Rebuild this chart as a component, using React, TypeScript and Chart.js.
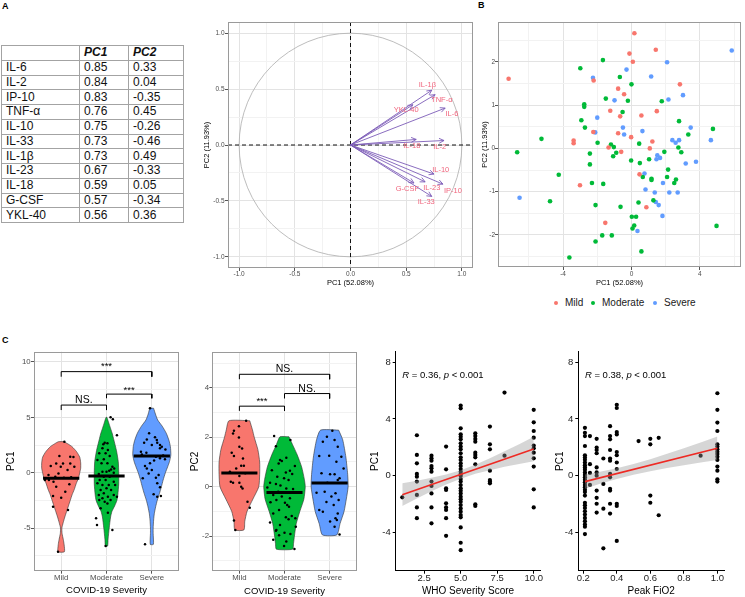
import React, { useEffect, useRef } from 'react';
import { Chart, registerables } from 'chart.js';

Chart.register(...registerables);
const FONT = '"Liberation Sans", Arial, Helvetica, sans-serif';
Chart.defaults.font.family = FONT;

// ---------------- Panel A : loadings ----------------
const cytokines = ['IL-6', 'IL-2', 'IP-10', 'TNF-α', 'IL-10', 'IL-33', 'IL-1β', 'IL-23', 'IL-18', 'G-CSF', 'YKL-40'];
const pc1Loadings = [0.85, 0.84, 0.83, 0.76, 0.75, 0.73, 0.73, 0.67, 0.59, 0.57, 0.56];
const pc2Loadings = [0.33, 0.04, -0.35, 0.45, -0.26, -0.46, 0.49, -0.33, 0.05, -0.34, 0.36];
const loadingLabelX = [0.91, 0.8, 0.92, 0.82, 0.81, 0.68, 0.69, 0.73, 0.55, 0.51, 0.5];
const loadingLabelY = [0.28, -0.02, -0.41, 0.4, -0.22, -0.51, 0.54, -0.38, -0.01, -0.39, 0.31];
const circleTicks = [-1, -0.5, 0, 0.5, 1];
const circleMinor = [-0.75, -0.25, 0.25, 0.75];

// ---------------- Panel B : individuals ----------------
const severityGroups = ['Mild', 'Moderate', 'Severe'];
const mildPC1 = [-7.18, 0.17, -0.12, 0.08, 1.42, -2.21, -0.78, -0.43, 2.83, -1.24, 1.48, -0.66, 0.58, -2.23, -0.78, -3.38, -3.38, -0.02, 1.22, -1.34, 1.07, -0.6, -3.01, 0.47, 0.87, -1.53];
const mildPC2 = [1.61, 2.66, 2.19, 2.0, 2.28, 1.57, 1.38, 1.25, 1.48, 0.87, 0.86, 0.74, 0.76, 0.38, 0.35, 0.18, 0.12, 0.26, 0.16, 0.02, 0.0, -0.08, -0.85, -0.6, -1.36, -1.72];
const moderatePC1 = [-1.67, -2.99, -0.68, 0.0, -1.5, -0.21, 1.77, -2.76, -2.76, -0.52, -2.93, 2.78, -2.72, 4.76, 3.32, -5.26, -1.98, -1.2, -1.03, 0.45, 2.74, -6.68, -0.89, -2.43, -1.07, 1.92, 2.91, -0.02, 1.03, 0.49, -2.43, 2.14, -4.25, 0.66, 2.08, 1.17, 1.17, 2.6, 2.5, -2.31, -1.65, -4.76, -2.1, 0.41, 1.28, -0.64, 0.02, 0.27, 0.16, 0.06, 4.97, -1.71, -1.15, -2.1, 0.58, -3.63];
const moderatePC2 = [2.04, 1.85, 1.65, 1.48, 1.15, 1.1, 1.09, 1.02, 0.96, 0.84, 0.65, 0.63, 0.48, 0.45, 0.32, 0.22, 0.13, 0.09, 0.03, 0.11, 0.02, -0.09, -0.1, -0.12, -0.18, -0.08, -0.09, -0.28, -0.25, -0.34, -0.37, -0.49, -0.61, -0.66, -0.66, -0.7, -0.73, -0.72, -0.8, -0.8, -0.82, -1.22, -1.31, -1.25, -1.2, -1.35, -1.58, -1.58, -1.78, -1.85, -1.79, -2.01, -2.01, -2.15, -2.38, -2.52];
const severePC1 = [5.86, 2.08, -0.29, 1.15, -2.25, 3.01, 2.16, -0.99, -2.0, -0.5, 3.46, 0.64, -2.12, -0.43, 2.39, 2.78, 2.58, 4.64, 1.51, 1.46, 1.67, 3.17, 3.77, 0.76, 1.84, 0.82, 1.36, 2.21, 2.7, 1.42, 1.59, 1.81, 0.35, -6.54];
const severePC2 = [2.26, 1.99, 1.82, 1.66, 1.63, 1.23, 1.13, 1.11, 0.71, 0.48, 0.48, 0.4, 0.37, 0.32, 0.19, 0.19, 0.13, 0.19, -0.16, -0.25, -0.22, -0.35, -0.31, -0.58, -0.8, -0.95, -1.02, -1.02, -1.02, -1.24, -1.31, -1.56, -1.91, -1.14];

// ---------------- Panel C : violins ----------------
const mildPC1ViolinY = [2.8, 2.6, 2.35, 1.9, 1.4, 0.9, 0.4, 0, -0.5, -1.0, -1.5, -2.0, -2.5, -3.0, -3.5, -4.0, -4.5, -5.0, -5.5, -6.0, -6.5, -7.14];
const mildPC1ViolinW = [0.06, 0.15, 0.24, 0.34, 0.41, 0.43, 0.43, 0.41, 0.38, 0.33, 0.29, 0.24, 0.2, 0.16, 0.12, 0.08, 0.045, 0.015, 0.02, 0.045, 0.065, 0.07];
const moderatePC1ViolinY = [5.0, 4.5, 4.0, 3.5, 3.0, 2.0, 1.0, 0, -1.0, -2.0, -2.5, -3.0, -3.5, -4.0, -5.0, -6.0, -6.62];
const moderatePC1ViolinW = [0.01, 0.05, 0.09, 0.13, 0.16, 0.22, 0.26, 0.27, 0.27, 0.25, 0.23, 0.18, 0.12, 0.09, 0.06, 0.035, 0.025];
const severePC1ViolinY = [5.82, 5.3, 4.76, 4.2, 3.56, 2.9, 2.35, 1.6, 1.0, 0.54, 0, -0.66, -1.3, -1.86, -2.5, -3.07, -3.7, -4.27, -5.0, -5.48, -6.47];
const severePC1ViolinW = [0.04, 0.08, 0.13, 0.23, 0.32, 0.38, 0.41, 0.42, 0.39, 0.35, 0.3, 0.25, 0.21, 0.17, 0.12, 0.085, 0.055, 0.04, 0.03, 0.03, 0.035];
const mildPC2ViolinY = [2.67, 2.3, 2.0, 1.5, 1.0, 0.5, 0, -0.5, -1.0, -1.4, -1.75];
const mildPC2ViolinW = [0.23, 0.29, 0.33, 0.41, 0.45, 0.45, 0.43, 0.3, 0.17, 0.12, 0.1];
const moderatePC2ViolinY = [2.02, 1.7, 1.3, 0.8, 0.3, 0, -0.5, -1.0, -1.5, -2.0, -2.3, -2.53];
const moderatePC2ViolinW = [0.1, 0.18, 0.28, 0.38, 0.44, 0.46, 0.43, 0.34, 0.26, 0.22, 0.2, 0.18];
const severePC2ViolinY = [2.29, 1.9, 1.2, 0.5, 0, -0.5, -1.0, -1.5, -1.95];
const severePC2ViolinW = [0.2, 0.29, 0.36, 0.4, 0.41, 0.37, 0.32, 0.23, 0.16];

const mildPC1Values = [2.8, 1.5, 1.45, 1.42, 0.6, 0.84, 0.84, 0.84, 0.24, -0.66, -0.66, -0.81, -0.06, -0.45, -1.05, -1.27, -2.1, -2.26, -3.37, -3.07, -7.14, -0.36, -0.21, 0.54, 0.54, -1.72, -0.4];
const mildPC1Jitter = [0.07, -0.04, 0.2, 0.27, -0.23, -0.11, 0.04, 0.2, 0.14, -0.36, -0.27, -0.17, -0.06, 0.06, 0.18, -0.11, -0.18, 0, 0.15, -0.18, -0.07, -0.13, -0.28, -0.01, 0.29, 0.09, 0.22];
const moderatePC1Values = [5.0, 4.82, 3.38, 2.71, 2.56, 2.65, 2.2, 2.05, 1.75, 1.75, 1.51, 1.21, 1.15, 0.85, 0.85, 0.54, 0.39, 0.3, 0.18, 0.09, 0.09, -0.12, 0, -0.36, -0.36, -0.66, -0.66, -0.81, -0.96, -1.11, -1.11, -1.11, -1.41, -1.56, -1.56, -1.86, -2.01, -2.01, -2.17, -2.31, -2.47, -2.62, -2.47, -2.17, -2.77, -4.12, -4.72, -5.18, -6.62, -3.61, -3.22];
const moderatePC1Jitter = [0.09, 0.14, 0.23, -0.04, -0.07, 0.02, -0.09, 0.03, -0.02, -0.16, 0.07, -0.06, -0.2, -0.11, 0.02, 0.13, 0.17, 0.1, 0.06, 0, -0.09, -0.17, 0.16, -0.06, 0.07, -0.15, -0.02, 0.16, -0.2, -0.09, 0.05, 0.19, 0, -0.13, 0.1, -0.06, -0.17, 0.16, 0.03, -0.09, -0.16, -0.04, 0.09, 0.23, 0.02, -0.23, -0.21, 0.13, -0.02, 0.03, -0.13];
const severePC1Values = [5.82, 3.56, 3.01, 3.2, 2.71, 2.71, 2.5, 2.5, 2.35, 1.9, 1.81, 1.45, 1.3, 1.21, 0.85, 0.6, 0.24, -0.21, -0.51, -0.45, -0.96, -1.32, -1.95, -2.17, -2.1, -6.47, 2.95, 2.2, -0.06, 0.39, 1.55, 1.65, 2.1, 1.1];
const severePC1Jitter = [-0.04, -0.06, -0.11, 0.07, 0.12, -0.17, 0, 0.18, 0.22, -0.24, -0.12, 0.09, 0.18, 0.29, -0.04, -0.15, 0, 0.15, -0.2, 0.09, 0.12, 0.18, 0.04, 0.12, 0.2, -0.15, 0.11, 0.18, -0.07, -0.11, 0.25, -0.22, 0.3, 0.05];
const mildPC2Values = [2.67, 2.45, 2.26, 2.15, 1.99, 1.62, 1.55, 1.37, 1.24, 1.14, 0.85, 0.85, 0.74, 0.61, 0.54, 0.2, 0.16, 0.16, 0, -0.07, -0.61, -0.85, -1.37, -1.75, 0.43];
const mildPC2Jitter = [0.15, -0.01, -0.12, -0.14, -0.01, 0, 0.06, -0.17, -0.12, 0.08, 0.04, 0.1, -0.07, -0.21, 0.13, -0.19, -0.14, 0, 0.04, 0.07, 0.18, 0.23, -0.12, -0.09, 0];
const moderatePC2Values = [2.05, 1.89, 1.64, 1.08, 1.04, 1.17, 0.94, 0.84, 0.67, 0.57, 0.65, 0.51, 0.4, 0.34, 0.27, 0.16, 0.11, 0.05, -0.03, -0.07, -0.09, -0.2, -0.34, -0.4, -0.47, -0.54, -0.63, -0.65, -0.74, -0.81, -0.94, -1.08, -1.19, -1.24, -1.32, -1.28, -1.45, -1.55, -1.62, -1.75, -1.86, -1.91, -1.97, -2.15, -2.22, -2.4, -2.52, -1.78];
const moderatePC2Jitter = [-0.23, 0.13, -0.19, -0.1, -0.06, 0.04, -0.13, 0.23, -0.28, 0.03, 0.12, 0.17, -0.16, -0.01, 0.09, -0.32, -0.19, -0.09, -0.38, 0.04, 0.19, -0.14, -0.25, -0.06, 0.12, -0.18, -0.31, 0.01, 0.06, 0.1, -0.12, -0.25, 0.16, 0.03, 0.09, 0.24, -0.32, -0.1, 0.25, -0.18, 0, 0.13, -0.12, -0.25, 0.04, -0.01, 0.22, -0.19];
const severePC2Values = [2.26, 2.02, 1.89, 1.82, 1.62, 1.24, 1.25, 1.21, 1.01, 0.54, 0.5, 0.5, 0.34, 0.27, 0.16, -0.24, -0.2, -0.27, -0.4, -0.54, -0.62, -0.74, -0.94, -1.01, -1.08, -1.28, -1.35, -1.41, -1.62, -1.93, 0.74];
const severePC2Jitter = [0.06, -0.06, 0.11, -0.15, 0.18, -0.23, -0.01, 0.26, 0.15, -0.18, 0.01, 0.11, 0.22, 0.18, -0.05, -0.29, -0.11, 0.13, 0.04, 0.2, -0.07, 0.09, -0.23, -0.15, 0.18, 0.13, 0.16, 0.01, 0.11, 0.22, 0.31];

const pc1Medians = [-0.5, -0.3, 1.5];
const pc2Medians = [0.55, -0.23, 0.15];

const pc1BracketFrom = [0, 1, 0];
const pc1BracketTo = [2, 2, 1];
const pc1BracketY = [9.13, 7.1, 6.11];
const pc1BracketEnd = [8.67, 6.72, 5.66];
const pc1BracketLabel = ['***', '***', 'NS.'];
const pc1BracketLabelY = [9.82, 7.71, 6.57];
const pc2BracketFrom = [0, 1, 0];
const pc2BracketTo = [2, 2, 1];
const pc2BracketY = [4.55, 3.77, 3.26];
const pc2BracketEnd = [4.35, 3.57, 3.07];
const pc2BracketLabel = ['NS.', 'NS.', '***'];
const pc2BracketLabelY = [4.75, 3.97, 3.57];

// ---------------- Panel C : correlations ----------------
const whoScores = [1, 2, 3, 4, 5, 6, 7, 8, 10];
const whoPC1 = [
  [-1.53],
  [2.85, 1.46, 0.87, 0.12, -0.07, -0.42, -1.36, -2.24, -3.0],
  [1.41, 1.22, 1.06, 0.68, 0.52, 0.28, -0.42, -0.73, -1.25, -2.24, -3.36],
  [2.05, 0.45, -0.89, -1.01, -1.95, -2.24, -2.42, -3.0, -4.24],
  [4.94, 4.75, 3.34, 2.92, 2.75, 2.56, 2.28, 2.05, 1.86, 1.58, 1.29, 1.11, 0.87, 0.68, 0.47, 0.28, 0.12, -0.02, -0.24, -0.42, -0.66, -0.89, -1.06, -1.25, -1.48, -1.67, -1.84, -2.07, -2.31, -2.54, -2.78, -2.94, -3.65, -4.73, -5.25],
  [2.99, 2.8, 2.59, 2.4, 1.62, 1.46, 1.29, 0.8, -2.02, -2.14],
  [3.46, 2.21, 1.86, 0.35, -0.31, -0.42, -0.54],
  [5.86, 1.41],
  [4.64, 3.76, 3.15, 2.68, 2.12, 1.93, 1.62, 1.22, 0.64, -0.96, -2.24],
];
const whoFitX = [1, 10];
const whoFitY = [-1.34, 1.88];
const whoBandX = [1, 2, 3, 4, 5, 6, 7, 8, 9, 10];
const whoBandUpper = [-0.54, -0.35, -0.14, 0.09, 0.39, 0.77, 1.23, 1.72, 2.22, 2.74];
const whoBandLower = [-2.14, -1.61, -1.1, -0.63, -0.21, 0.13, 0.39, 0.62, 0.82, 1.02];
const whoStat = { r: '0.36', p: '0.001', x: 1, y: 7.04 };

const fio2Levels = [0.21, 0.24, 0.28, 0.32, 0.36, 0.4, 0.53, 0.6, 0.65, 0.9, 1.0];
const fio2PC1 = [
  [3.37, 3.02, 2.79, 2.09, 1.44, 1.28, 1.12, 0.93, 0.74, 0.58, 0.42, 0.23, 0.05, -0.12, -0.28, -0.47, -0.65, -0.81, -1.0, -1.16, -1.4, -1.91, -2.09, -2.28, -2.51, -2.74, -2.98, -3.21, -3.44, -3.6, -4.12],
  [2.79, 0.81, 0.19, -0.65],
  [2.6, 1.98, 1.81, 1.58, 0.58, 0.23, 0.0, -1.05, -1.56, -1.98, -2.6],
  [1.21, -0.58, -2.33, -5.12],
  [3.49, 2.79, 2.56, 1.81, 1.21, 1.05, 0.12, -0.12, -0.93, -1.05, -1.98, -2.67],
  [5.0, 4.77, 3.07, 2.91, 1.67, 1.44, 0.93, 0.47, -1.98, -2.14, -4.6],
  [2.44],
  [2.6, 2.21, -1.4, -1.91],
  [2.67, -2.79],
  [1.41],
  [5.81, 4.64, 3.74, 3.15, 2.21, 2.05, 1.86, 1.69, 1.53, 1.34, 1.11, 0.64, 0.35, -0.26, -0.42],
];
const fio2FitX = [0.21, 1.0];
const fio2FitY = [-0.42, 1.93];
const fio2BandX = [0.21, 0.3, 0.4, 0.5, 0.6, 0.7, 0.8, 0.9, 1.0];
const fio2BandUpper = [0.08, 0.27, 0.52, 0.82, 1.16, 1.54, 1.93, 2.34, 2.76];
const fio2BandLower = [-0.92, -0.57, -0.24, 0.06, 0.32, 0.54, 0.73, 0.92, 1.1];
const fio2Stat = { r: '0.38', p: '0.001', x: 0.21, y: 7.04 };

// ---------------- styling ----------------
const GROUP_COLORS = ['#F8766D', '#00BA38', '#619CFF'];
const ARROW_COLOR = '#7D5CB8';
const LABEL_PINK = '#F0667E';
const TICK_GREY = '#4d4d4d';

const zip = (xs: number[], ys: number[]) => xs.map((x, i) => ({ x, y: ys[i] }));

function makeAxis(o: any): any {
  const minor: number[] = o.minor || [];
  const isMajor = (v: number) => o.major.some((m: number) => Math.abs(m - v) < 1e-9);
  const all = [...o.major, ...minor].sort((a, b) => a - b);
  return {
    type: 'linear',
    min: o.min,
    max: o.max,
    afterBuildTicks: (s: any) => {
      s.ticks = all.map((v) => ({ value: v }));
    },
    afterFit: (s: any) => {
      if (o.axis === 'x') s.height = o.size;
      else s.width = o.size;
      s.paddingLeft = 0;
      s.paddingRight = 0;
      s.paddingTop = 0;
      s.paddingBottom = 0;
    },
    ticks: { display: false, autoSkip: false },
    grid: o.classic
      ? { drawOnChartArea: false, color: 'rgba(0,0,0,0)', tickColor: '#000', tickLength: 3, lineWidth: 1 }
      : {
          color: (c: any) => (isMajor(c.tick ? c.tick.value : NaN) ? '#e3e3e3' : '#f2f2f2'),
          tickColor: (c: any) => (isMajor(c.tick ? c.tick.value : NaN) ? '#555' : 'rgba(0,0,0,0)'),
          tickLength: 3,
          lineWidth: 1,
        },
    border: o.classic ? { display: true, color: '#000', width: 1 } : { display: false },
    title: { display: false },
  };
}

// draws tick labels and axis titles from the chart's own scales
function axisTextPlugin(xo: any, yo: any) {
  return {
    id: 'axisText',
    afterDraw(chart: any) {
      const { ctx, chartArea: a, scales } = chart;
      ctx.save();
      ctx.textBaseline = 'middle';
      ctx.fillStyle = xo.tickColor;
      ctx.font = `${xo.tickFont}px ${FONT}`;
      ctx.textAlign = 'center';
      xo.major.forEach((v: number) => {
        ctx.fillText(xo.fmt ? xo.fmt(v) : String(v), scales.x.getPixelForValue(v), a.bottom + xo.labelOffset);
      });
      ctx.fillStyle = yo.tickColor;
      ctx.font = `${yo.tickFont}px ${FONT}`;
      ctx.textAlign = 'right';
      yo.major.forEach((v: number) => {
        ctx.fillText(yo.fmt ? yo.fmt(v) : String(v), a.left - yo.labelOffset, scales.y.getPixelForValue(v));
      });
      ctx.fillStyle = '#000';
      ctx.textAlign = 'center';
      ctx.font = `${xo.titleFont}px ${FONT}`;
      ctx.fillText(xo.title, (a.left + a.right) / 2, a.bottom + xo.titleOffset);
      ctx.translate(a.left - yo.titleOffset, (a.top + a.bottom) / 2);
      ctx.rotate(-Math.PI / 2);
      ctx.font = `${yo.titleFont}px ${FONT}`;
      ctx.fillText(yo.title, 0, 0);
      ctx.restore();
    },
  };
}

function baseOptions(padding: any, x: any, y: any) {
  return {
    responsive: false,
    animation: false,
    events: [],
    layout: { padding },
    plugins: { legend: { display: false }, tooltip: { enabled: false } },
    scales: { x, y },
  };
}

function drawPanelBorder(chart: any, color: string) {
  const { ctx, chartArea: a } = chart;
  ctx.save();
  ctx.strokeStyle = color;
  ctx.lineWidth = 1;
  const l = Math.round(a.left) + 0.5, t = Math.round(a.top) + 0.5;
  const r = Math.round(a.right) - 0.5, b = Math.round(a.bottom) - 0.5;
  ctx.strokeRect(l, t, r - l, b - t);
  ctx.restore();
}

function drawRich(ctx: any, x: number, y: number, segs: { t: string; i?: boolean }[], size: number, color: string, align: string) {
  const widths = segs.map((s) => {
    ctx.font = `${s.i ? 'italic ' : ''}${size}px ${FONT}`;
    return ctx.measureText(s.t).width;
  });
  const total = widths.reduce((a, b) => a + b, 0);
  let cx = align === 'center' ? x - total / 2 : align === 'right' ? x - total : x;
  ctx.textBaseline = 'middle';
  ctx.textAlign = 'left';
  ctx.fillStyle = color;
  segs.forEach((s, k) => {
    ctx.font = `${s.i ? 'italic ' : ''}${size}px ${FONT}`;
    ctx.fillText(s.t, cx, y);
    cx += widths[k];
  });
}

// ---------------- chart configs ----------------
function circleConfig() {
  const arrows = cytokines.map((name, i) => ({
    label: name,
    data: [{ x: 0, y: 0 }, { x: pc1Loadings[i], y: pc2Loadings[i] }],
    borderColor: ARROW_COLOR,
    borderWidth: 0.9,
    pointRadius: 0,
    showLine: true,
    fill: false,
  }));
  const plugin = {
    id: 'circleDecor',
    beforeDatasetsDraw(chart: any) {
      const { ctx, chartArea: a, scales } = chart;
      const x = scales.x, y = scales.y;
      const cx = x.getPixelForValue(0), cy = y.getPixelForValue(0);
      const rx = x.getPixelForValue(1) - cx, ry = cy - y.getPixelForValue(1);
      ctx.save();
      ctx.strokeStyle = '#b5b5b5';
      ctx.lineWidth = 0.9;
      ctx.beginPath();
      ctx.ellipse(cx, cy, rx, ry, 0, 0, Math.PI * 2);
      ctx.stroke();
      ctx.strokeStyle = '#111';
      ctx.lineWidth = 1;
      ctx.setLineDash([4, 3]);
      ctx.beginPath();
      ctx.moveTo(a.left, cy);
      ctx.lineTo(a.right, cy);
      ctx.moveTo(cx, a.top);
      ctx.lineTo(cx, a.bottom);
      ctx.stroke();
      ctx.restore();
    },
    afterDatasetsDraw(chart: any) {
      const { ctx, scales } = chart;
      ctx.save();
      ctx.strokeStyle = ARROW_COLOR;
      ctx.lineWidth = 0.9;
      cytokines.forEach((_, i) => {
        const m = chart.getDatasetMeta(i);
        const p0 = m.data[0], p1 = m.data[1];
        const ang = Math.atan2(p1.y - p0.y, p1.x - p0.x);
        const L = 5.5;
        ctx.beginPath();
        ctx.moveTo(p1.x - L * Math.cos(ang - 0.45), p1.y - L * Math.sin(ang - 0.45));
        ctx.lineTo(p1.x, p1.y);
        ctx.lineTo(p1.x - L * Math.cos(ang + 0.45), p1.y - L * Math.sin(ang + 0.45));
        ctx.stroke();
      });
      cytokines.forEach((name, i) => {
        drawRich(ctx, scales.x.getPixelForValue(loadingLabelX[i]), scales.y.getPixelForValue(loadingLabelY[i]), [{ t: name }], 7.5, LABEL_PINK, 'center');
      });
      ctx.restore();
      drawPanelBorder(chart, '#9a9a9a');
    },
  };
  const fmt = (v: number) => v.toFixed(1);
  const xo = { axis: 'x', min: -1.1, max: 1.1, major: circleTicks, minor: circleMinor, fmt, size: 29, tickFont: 6.5, tickColor: TICK_GREY, labelOffset: 6.2, title: 'PC1 (52.08%)', titleFont: 7.5, titleOffset: 15 };
  const yo = { axis: 'y', min: -1.1, max: 1.1, major: circleTicks, minor: circleMinor, fmt, size: 33, tickFont: 6.5, tickColor: TICK_GREY, labelOffset: 3.5, title: 'PC2 (11.93%)', titleFont: 7.5, titleOffset: 21 };
  return {
    type: 'line',
    data: { datasets: arrows },
    options: baseOptions({ left: 0, top: 10, right: 7, bottom: 0 }, makeAxis(xo), makeAxis(yo)),
    plugins: [plugin, axisTextPlugin(xo, yo)],
  };
}

function individualsConfig() {
  const xs = [mildPC1, moderatePC1, severePC1];
  const ys = [mildPC2, moderatePC2, severePC2];
  const datasets = severityGroups.map((g, i) => ({
    label: g,
    data: zip(xs[i], ys[i]),
    showLine: false,
    pointRadius: 2.3,
    pointBorderWidth: 0,
    pointBackgroundColor: GROUP_COLORS[i],
    borderColor: GROUP_COLORS[i],
  }));
  const plugin = {
    id: 'indBorder',
    afterDatasetsDraw(chart: any) {
      drawPanelBorder(chart, '#9a9a9a');
    },
  };
  const xo = { axis: 'x', min: -7.8, max: 6.4, major: [-4, 0, 4], minor: [-6, -2, 2, 6], size: 30, tickFont: 6.5, tickColor: TICK_GREY, labelOffset: 7, title: 'PC1 (52.08%)', titleFont: 7.5, titleOffset: 15.7 };
  const yo = { axis: 'y', min: -2.74, max: 2.92, major: [-2, -1, 0, 1, 2], minor: [-2.5, -1.5, -0.5, 0.5, 1.5, 2.5], size: 18, tickFont: 6.5, tickColor: TICK_GREY, labelOffset: 3, title: 'PC2 (11.93%)', titleFont: 7.5, titleOffset: 13 };
  return {
    type: 'line',
    data: { datasets },
    options: baseOptions({ left: 0, top: 10, right: 1, bottom: 0 }, makeAxis(xo), makeAxis(yo)),
    plugins: [plugin, axisTextPlugin(xo, yo)],
  };
}

function violinConfig(p: any) {
  const datasets: any[] = [];
  p.bFrom.forEach((f: number, i: number) => {
    datasets.push({
      data: [
        { x: f, y: p.bEnd[i] },
        { x: f, y: p.bY[i] },
        { x: p.bTo[i], y: p.bY[i] },
        { x: p.bTo[i], y: p.bEnd[i] },
      ],
      borderColor: '#000',
      borderWidth: 1,
      pointRadius: 0,
      fill: false,
    });
  });
  p.medians.forEach((m: number, i: number) => {
    datasets.push({
      data: [{ x: i - 0.4, y: m }, { x: i + 0.4, y: m }],
      borderColor: '#000',
      borderWidth: 3,
      pointRadius: 0,
      fill: false,
    });
  });
  p.values.forEach((vals: number[], i: number) => {
    datasets.push({
      data: vals.map((v, k) => ({ x: i + p.jitters[i][k], y: v })),
      showLine: false,
      pointRadius: 1.25,
      pointBorderWidth: 0,
      pointBackgroundColor: '#000',
    });
  });
  p.profiles.forEach((prof: number[][], i: number) => {
    const [ys, ws] = prof;
    const right = ys.map((y, k) => ({ x: i + ws[k], y }));
    const left = ys.map((y, k) => ({ x: i - ws[k], y })).reverse();
    datasets.push({
      data: [...right, ...left, right[0]],
      borderColor: '#333',
      borderWidth: 0.6,
      backgroundColor: GROUP_COLORS[i],
      pointRadius: 0,
      tension: 0.2,
      fill: 'shape',
    });
  });
  const plugin = {
    id: 'violinDecor',
    afterDatasetsDraw(chart: any) {
      const { ctx, scales } = chart;
      ctx.save();
      p.bLabel.forEach((t: string, i: number) => {
        const star = t.startsWith('*');
        const size = star ? 9.5 : 10.5;
        const x = scales.x.getPixelForValue((p.bFrom[i] + p.bTo[i]) / 2);
        const y = scales.y.getPixelForValue(p.bLabelY[i]) + (star ? size * 0.28 : 0);
        drawRich(ctx, x, y, [{ t }], size, '#000', 'center');
      });
      ctx.restore();
      drawPanelBorder(chart, '#9a9a9a');
    },
  };
  const xo = { axis: 'x', min: -0.6, max: 2.6, major: [0, 1, 2], fmt: (v: number) => severityGroups[Math.round(v)], size: 26.3, tickFont: 7.8, tickColor: TICK_GREY, labelOffset: 7.5, title: 'COVID-19 Severity', titleFont: 9.5, titleOffset: p.xTitleOffset };
  const yo = { axis: 'y', min: p.ymin, max: p.ymax, major: p.major, minor: p.minor, size: p.ySize, tickFont: 7.8, tickColor: TICK_GREY, labelOffset: 3.3, title: p.yTitle, titleFont: 10, titleOffset: p.yTitleOffset };
  return {
    type: 'line',
    data: { datasets },
    options: baseOptions(p.padding, makeAxis(xo), makeAxis(yo)),
    plugins: [plugin, axisTextPlugin(xo, yo)],
  };
}

function correlationConfig(p: any) {
  const pts: { x: number; y: number }[] = [];
  p.xs.forEach((x: number, i: number) => p.groups[i].forEach((v: number) => pts.push({ x, y: v })));
  const datasets = [
    { data: zip(p.fitX, p.fitY), borderColor: '#EE2A24', borderWidth: 1.6, pointRadius: 0, fill: false },
    { data: zip(p.bandX, p.bandUpper), borderWidth: 0, pointRadius: 0, backgroundColor: 'rgba(153,153,153,0.4)', fill: '+1' },
    { data: zip(p.bandX, p.bandLower), borderWidth: 0, pointRadius: 0, fill: false },
    { data: pts, showLine: false, pointRadius: 2.1, pointBorderWidth: 0, pointBackgroundColor: '#000' },
  ];
  const plugin = {
    id: 'corrText',
    afterDatasetsDraw(chart: any) {
      const { ctx, scales } = chart;
      ctx.save();
      drawRich(
        ctx,
        scales.x.getPixelForValue(p.stat.x),
        scales.y.getPixelForValue(p.stat.y),
        [{ t: 'R', i: true }, { t: ` = ${p.stat.r}, ` }, { t: 'p', i: true }, { t: ` < ${p.stat.p}` }],
        9.5,
        '#000',
        'left'
      );
      ctx.restore();
    },
  };
  const xo = { axis: 'x', min: p.xmin, max: p.xmax, major: p.xTicks, fmt: (v: number) => v.toFixed(1), size: 26.3, tickFont: 9.5, tickColor: '#222', labelOffset: 8, title: p.xTitle, titleFont: 10, titleOffset: 20.3, classic: true };
  const yo = { axis: 'y', min: -6.7, max: 8.74, major: [-4, 0, 4, 8], size: p.ySize, tickFont: 9.5, tickColor: '#222', labelOffset: 5, title: 'PC1', titleFont: 10, titleOffset: p.yTitleOffset, classic: true };
  return {
    type: 'line',
    data: { datasets },
    options: baseOptions(p.padding, makeAxis(xo), makeAxis(yo)),
    plugins: [plugin, axisTextPlugin(xo, yo)],
  };
}

function ChartBox({ left, top, width, height, make }: any) {
  const ref = useRef<HTMLCanvasElement>(null);
  useEffect(() => {
    const chart = new Chart(ref.current as HTMLCanvasElement, make());
    return () => chart.destroy();
  }, []);
  return <canvas ref={ref} width={width} height={height} style={{ position: 'absolute', left, top, width, height, display: 'block' }} />;
}

const cell: any = { border: '1px solid #a3a3a3', padding: '0 0 0 4px', height: 13.75, lineHeight: '13px', textAlign: 'left', whiteSpace: 'nowrap' };

function LoadingTable() {
  return (
    <table style={{ position: 'absolute', left: 1, top: 45, borderCollapse: 'collapse', tableLayout: 'fixed', width: 182, fontFamily: FONT, fontSize: 12, color: '#111' }}>
      <colgroup>
        <col style={{ width: 78 }} />
        <col style={{ width: 49 }} />
        <col style={{ width: 55 }} />
      </colgroup>
      <tbody>
        <tr>
          <td style={cell}></td>
          <td style={{ ...cell, fontWeight: 'bold', fontStyle: 'italic' }}>PC1</td>
          <td style={{ ...cell, fontWeight: 'bold', fontStyle: 'italic' }}>PC2</td>
        </tr>
        {cytokines.map((c, i) => (
          <tr key={c}>
            <td style={cell}>{c}</td>
            <td style={cell}>{pc1Loadings[i].toFixed(2)}</td>
            <td style={cell}>{pc2Loadings[i].toFixed(2)}</td>
          </tr>
        ))}
      </tbody>
    </table>
  );
}

function Legend() {
  const xs = [556, 593, 655];
  return (
    <>
      {severityGroups.map((g, i) => (
        <React.Fragment key={g}>
          <div style={{ position: 'absolute', left: xs[i] - 1.7, top: 301.3, width: 3.4, height: 3.4, borderRadius: 2, background: GROUP_COLORS[i] }} />
          <div style={{ position: 'absolute', left: xs[i] + 9, top: 297, fontFamily: FONT, fontSize: 10, lineHeight: '12px', color: '#1a1a1a' }}>{g}</div>
        </React.Fragment>
      ))}
    </>
  );
}

const panelLabel: any = { position: 'absolute', fontFamily: FONT, fontWeight: 'bold', fontSize: 9, lineHeight: '9px', color: '#000' };

export default function App() {
  return (
    <div style={{ position: 'absolute', left: 0, top: 0, width: 745, height: 597, background: '#fff', overflow: 'hidden' }}>
      <div style={{ ...panelLabel, left: 2, top: 2 }}>A</div>
      <div style={{ ...panelLabel, left: 478, top: 1 }}>B</div>
      <div style={{ ...panelLabel, left: 2, top: 336 }}>C</div>
      <LoadingTable />
      <ChartBox left={195} top={12} width={285} height={285} make={circleConfig} />
      <ChartBox left={480} top={12} width={265} height={285} make={individualsConfig} />
      <Legend />
      <ChartBox
        left={0}
        top={340}
        width={185}
        height={257}
        make={() =>
          violinConfig({
            ymin: -8.85, ymax: 10.93, major: [-5, 0, 5, 10], minor: [-7.5, -2.5, 2.5, 7.5], yTitle: 'PC1',
            profiles: [[mildPC1ViolinY, mildPC1ViolinW], [moderatePC1ViolinY, moderatePC1ViolinW], [severePC1ViolinY, severePC1ViolinW]],
            values: [mildPC1Values, moderatePC1Values, severePC1Values],
            jitters: [mildPC1Jitter, moderatePC1Jitter, severePC1Jitter],
            medians: pc1Medians,
            bFrom: pc1BracketFrom, bTo: pc1BracketTo, bY: pc1BracketY, bEnd: pc1BracketEnd, bLabel: pc1BracketLabel, bLabelY: pc1BracketLabelY,
            ySize: 34, padding: { left: 0, top: 11.7, right: 6, bottom: 0 }, xTitleOffset: 19.3, yTitleOffset: 22.3,
          })
        }
      />
      <ChartBox
        left={185}
        top={340}
        width={180}
        height={257}
        make={() =>
          violinConfig({
            ymin: -3.4, ymax: 5.44, major: [-2, 0, 2, 4], minor: [-3, -1, 1, 3, 5], yTitle: 'PC2',
            profiles: [[mildPC2ViolinY, mildPC2ViolinW], [moderatePC2ViolinY, moderatePC2ViolinW], [severePC2ViolinY, severePC2ViolinW]],
            values: [mildPC2Values, moderatePC2Values, severePC2Values],
            jitters: [mildPC2Jitter, moderatePC2Jitter, severePC2Jitter],
            medians: pc2Medians,
            bFrom: pc2BracketFrom, bTo: pc2BracketTo, bY: pc2BracketY, bEnd: pc2BracketEnd, bLabel: pc2BracketLabel, bLabelY: pc2BracketLabelY,
            ySize: 27.3, padding: { left: 0, top: 12.3, right: 8.3, bottom: 0 }, xTitleOffset: 20.3, yTitleOffset: 17.3,
          })
        }
      />
      <ChartBox
        left={365}
        top={340}
        width={180}
        height={257}
        make={() =>
          correlationConfig({
            xs: whoScores, groups: whoPC1, fitX: whoFitX, fitY: whoFitY, bandX: whoBandX, bandUpper: whoBandUpper, bandLower: whoBandLower,
            stat: whoStat, xmin: 0.55, xmax: 10.45, xTicks: [2.5, 5, 7.5, 10], xTitle: 'WHO Severity Score',
            ySize: 30.7, padding: { left: 0, top: 11.7, right: 4.7, bottom: 0 }, yTitleOffset: 20.7,
          })
        }
      />
      <ChartBox
        left={550}
        top={340}
        width={195}
        height={257}
        make={() =>
          correlationConfig({
            xs: fio2Levels, groups: fio2PC1, fitX: fio2FitX, fitY: fio2FitY, bandX: fio2BandX, bandUpper: fio2BandUpper, bandLower: fio2BandLower,
            stat: fio2Stat, xmin: 0.1705, xmax: 1.0395, xTicks: [0.2, 0.4, 0.6, 0.8, 1.0], xTitle: 'Peak FiO2',
            ySize: 28.3, padding: { left: 0, top: 11.7, right: 21, bottom: 0 }, yTitleOffset: 18.3,
          })
        }
      />
    </div>
  );
}
